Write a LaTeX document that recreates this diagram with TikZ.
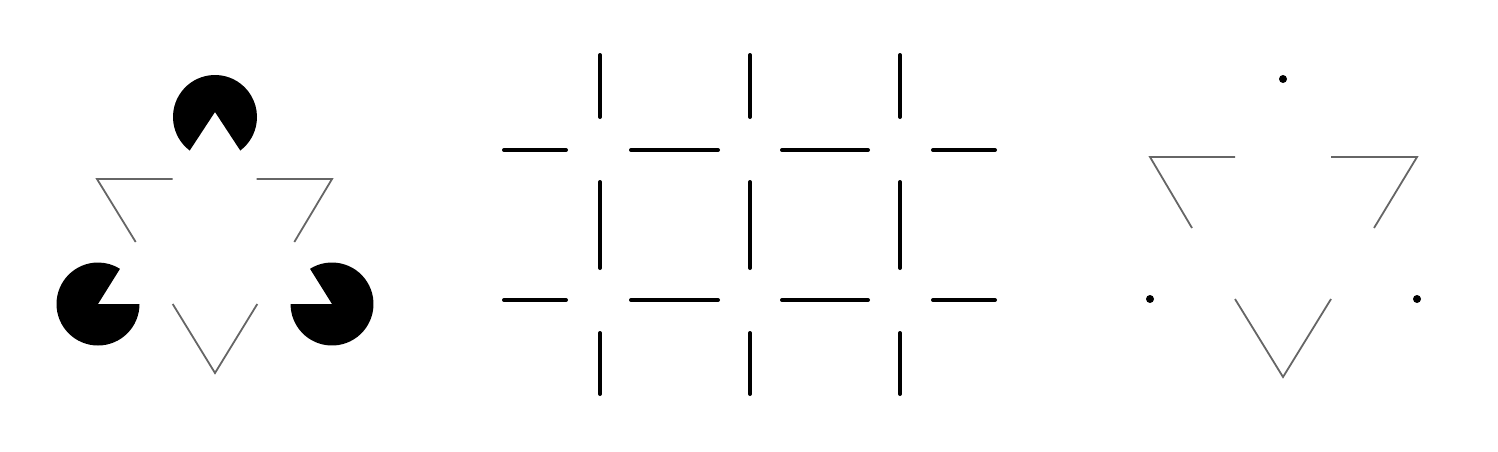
\documentclass[tikz,border=0pt]{standalone}
\begin{document}
\begin{tikzpicture}[x=0.5pt,y=-0.5pt,
    edge/.style={black!60,line width=0.9pt},
    bar/.style={line width=2pt,line cap=round}]
\useasboundingbox (0,0) rectangle (1498,451);
\fill (215,117)++(127:42) arc (127:413:42)--(215,112)--cycle;
\fill (98,304)--++(0:41.5) arc (0:302:41.5)--cycle;
\fill (332,304)--++(238:41.5) arc (238:540:41.5)--cycle;
\draw[edge] (172.7,179)--(97,179)--(135.7,242);
\draw[edge] (256.7,179)--(332,179)--(294.3,242);
\draw[edge] (172.7,304)--(215,373)--(257.3,304);
\foreach \x in {600,750,900}{
    \draw[bar] (\x,55)--(\x,117) (\x,182)--(\x,268) (\x,333)--(\x,394);
}
\foreach \y in {150,300}{
    \draw[bar] (504,\y)--(566,\y) (631,\y)--(718,\y) (782,\y)--(868,\y) (933,\y)--(995,\y);
}
\draw[edge] (1235,157)--(1150,157)--(1192,228);
\draw[edge] (1331,157)--(1417,157)--(1374,228);
\draw[edge] (1235,299)--(1283,377)--(1331,299);
\foreach \p in {(1283,79),(1150,299),(1417,299)}{
    \fill \p circle (2pt);
}
\end{tikzpicture}
\end{document}
